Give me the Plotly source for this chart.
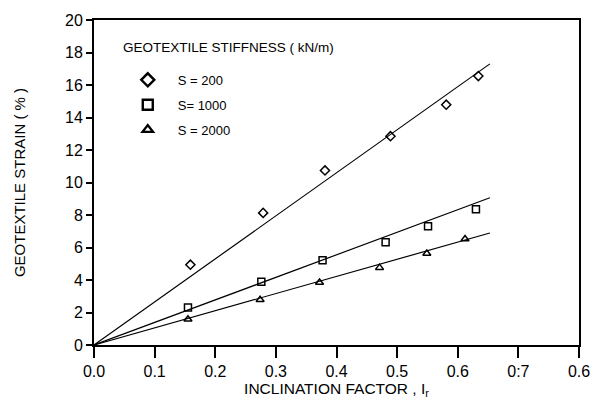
import plotly.graph_objects as go

# Data
x_s200 = [0.159, 0.279, 0.381, 0.489, 0.581, 0.634]
y_s200 = [4.94, 8.13, 10.74, 12.85, 14.79, 16.55]
x_s1000 = [0.155, 0.276, 0.377, 0.481, 0.551, 0.630]
y_s1000 = [2.31, 3.89, 5.21, 6.32, 7.31, 8.35]
x_s2000 = [0.155, 0.274, 0.372, 0.471, 0.549, 0.612]
y_s2000 = [1.58, 2.78, 3.85, 4.76, 5.63, 6.52]

# Fitted lines (start, end)
fit_x = [0.0, 0.653]
fit_s200 = [0.0, 17.3]
fit_s1000 = [0.0, 9.06]
fit_s2000 = [0.0, 6.89]

series_names = ["S = 200", "S= 1000", "S = 2000"]
x_label_alias = {"0.7": "0:7", "0.8": "0.6"}

FONT = "Liberation Sans, Arial, sans-serif"
INK = "black"

fig = go.Figure()

for fy in (fit_s200, fit_s1000, fit_s2000):
    fig.add_trace(go.Scatter(x=fit_x, y=fy, mode="lines",
                             line=dict(color=INK, width=1.2),
                             showlegend=False, hoverinfo="skip"))

symbols = ["diamond-open", "square-open", "triangle-up-open"]
data = [(x_s200, y_s200), (x_s1000, y_s1000), (x_s2000, y_s2000)]
for i, (name, sym, (xs, ys)) in enumerate(zip(series_names, symbols, data)):
    fig.add_trace(go.Scatter(
        x=xs, y=ys, mode="markers", name=name, showlegend=False,
        marker=dict(symbol=sym, size=7, color=INK,
                    line=dict(color=INK, width=1.5)),
    ))
    fig.add_trace(go.Scatter(
        x=[None], y=[None], mode="markers", name=name, legendgroup=f"g{i}",
        marker=dict(symbol=sym, size=10 if i < 2 else 9, color=INK,
                    line=dict(color=INK, width=2.4)),
    ))

fig.add_annotation(
    text="GEOTEXTILE STIFFNESS ( kN/m)", xref="paper", yref="paper",
    x=0.056, y=0.914, xanchor="left", yanchor="middle", showarrow=False,
    font=dict(size=13.5, family=FONT, color=INK),
)

fig.update_layout(
    width=604, height=407,
    margin=dict(l=94, r=25, t=16, b=62),
    paper_bgcolor="white", plot_bgcolor="white",
    font=dict(family=FONT, color=INK, size=16),
    showlegend=True,
    legend=dict(
        x=0.049, y=0.862, xanchor="left", yanchor="top",
        bgcolor="rgba(0,0,0,0)",
        font=dict(size=13, family=FONT),
        tracegroupgap=5,
        itemwidth=50,
    ),
    xaxis=dict(
        range=[0, 0.8], tickmode="linear", tick0=0, dtick=0.1,
        tickformat=".1f", labelalias=x_label_alias,
        showline=True, linecolor=INK, linewidth=2, mirror=True,
        ticks="outside", ticklen=11, tickwidth=1.5, tickcolor=INK,
        showgrid=False, zeroline=False,
        tickfont=dict(size=16),
        title=dict(text="INCLINATION FACTOR , I<sub>r</sub>", font=dict(size=15.5), standoff=0),
    ),
    yaxis=dict(
        range=[0, 20], tickmode="linear", tick0=0, dtick=2,
        showline=True, linecolor=INK, linewidth=2, mirror=True,
        ticks="outside", ticklen=6, tickwidth=1.5, tickcolor=INK,
        showgrid=False, zeroline=False,
        tickfont=dict(size=16),
        title=dict(text="GEOTEXTILE STRAIN ( % )", font=dict(size=15), standoff=36),
    ),
)

fig.write_html("out.html")
